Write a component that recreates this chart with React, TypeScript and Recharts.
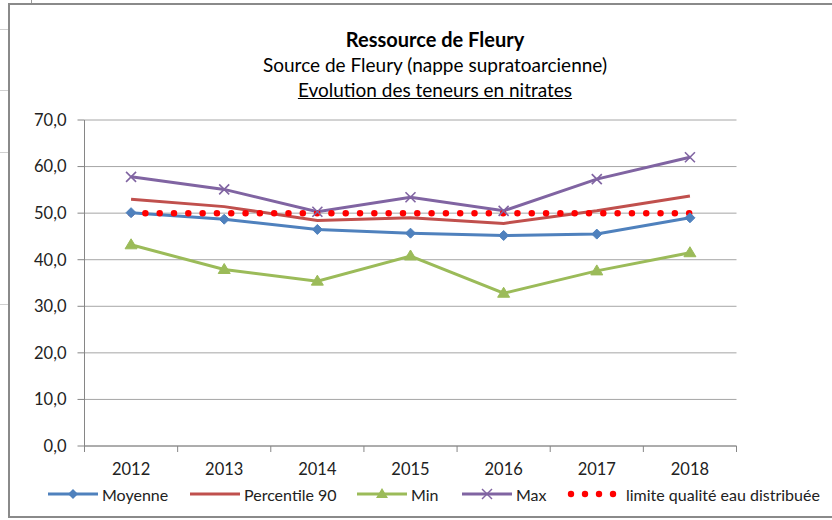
import React from 'react';
import { LineChart, Line, XAxis, YAxis, CartesianGrid } from 'recharts';

const years = ['2012', '2013', '2014', '2015', '2016', '2017', '2018'];
const moyenne = [50.1, 48.7, 46.5, 45.7, 45.2, 45.5, 49.0];
const percentile90 = [53.0, 51.4, 48.4, 49.0, 47.8, 50.5, 53.7];
const minValues = [43.2, 37.9, 35.4, 40.8, 32.8, 37.6, 41.5];
const maxValues = [57.8, 55.1, 50.3, 53.4, 50.5, 57.3, 62.0];
const limite = [50, 50, 50, 50, 50, 50, 50];
const yTicks = [0, 10, 20, 30, 40, 50, 60, 70];

const BLUE = '#4F81BD';
const RED = '#C0504D';
const GREEN = '#9BBB59';
const PURPLE = '#8064A2';
const LIMIT = '#FF0000';
const FONT = 'Lato, "Open Sans", sans-serif';

const data = years.map((year, i) => ({
  year,
  moyenne: moyenne[i],
  p90: percentile90[i],
  min: minValues[i],
  max: maxValues[i],
  limite: limite[i],
}));

const Diamond = (props: any) => {
  const { cx, cy } = props;
  if (cx == null || cy == null) return null;
  return <polygon points={`${cx},${cy - 5} ${cx + 5},${cy} ${cx},${cy + 5} ${cx - 5},${cy}`} fill={BLUE} stroke={BLUE} />;
};

const Triangle = (props: any) => {
  const { cx, cy } = props;
  if (cx == null || cy == null) return null;
  return <polygon points={`${cx},${cy - 6} ${cx + 6},${cy + 4} ${cx - 6},${cy + 4}`} fill={GREEN} stroke={GREEN} />;
};

const Cross = (props: any) => {
  const { cx, cy } = props;
  if (cx == null || cy == null) return null;
  return (
    <g stroke={PURPLE} strokeWidth={1.6}>
      <line x1={cx - 5} y1={cy - 5} x2={cx + 5} y2={cy + 5} />
      <line x1={cx - 5} y1={cy + 5} x2={cx + 5} y2={cy - 5} />
    </g>
  );
};

// category ticks sit between the years, like Excel
const YearTick = (props: any) => {
  const { x, y, payload, index, visibleTicksCount } = props;
  const half = payload.offset || 0;
  const last = index === visibleTicksCount - 1;
  return (
    <g>
      <line x1={x - half} y1={y} x2={x - half} y2={y + 6} stroke="#868686" />
      {last && <line x1={x + half} y1={y} x2={x + half} y2={y + 6} stroke="#868686" />}
      <text x={x} y={y + 29} textAnchor="middle" fontSize={16.5} fill="#222" fontFamily={FONT}>
        {payload.value}
      </text>
    </g>
  );
};

const LegendLine = ({ color, marker }: { color: string; marker?: string }) => (
  <svg width={50} height={14} style={{ display: 'block' }}>
    <line x1={0} y1={7} x2={50} y2={7} stroke={color} strokeWidth={3} />
    {marker === 'diamond' && <polygon points="25,2 30,7 25,12 20,7" fill={color} />}
    {marker === 'triangle' && <polygon points="25,1 31,11 19,11" fill={color} />}
    {marker === 'cross' && (
      <g stroke={color} strokeWidth={1.4}>
        <line x1={20} y1={2} x2={30} y2={12} />
        <line x1={20} y1={12} x2={30} y2={2} />
      </g>
    )}
  </svg>
);

const legendItems = [
  { label: 'Moyenne', color: BLUE, marker: 'diamond', left: 48 },
  { label: 'Percentile 90', color: RED, marker: '', left: 190 },
  { label: 'Min', color: GREEN, marker: 'triangle', left: 357 },
  { label: 'Max', color: PURPLE, marker: 'cross', left: 462 },
];

const App = () => {
  return (
    <div style={{ position: 'absolute', left: 0, top: 0, width: 832, height: 520, overflow: 'hidden', background: '#fff', fontFamily: FONT }}>
      {/* bits of the spreadsheet behind the chart */}
      {[29, 90, 152, 304].map((t) => (
        <div key={t} style={{ position: 'absolute', left: 0, top: t, width: 8, height: 1, background: '#d0d0d0' }} />
      ))}
      <div style={{ position: 'absolute', left: 31, top: 0, width: 1, height: 3, background: '#9a9a9a' }} />
      <div style={{ position: 'absolute', left: 8, top: 3, width: 840, height: 511, border: '2px solid #8a8a8a', boxSizing: 'content-box' }} />

      <div style={{ position: 'absolute', left: 0, top: 27, width: 870, textAlign: 'center', color: '#000' }}>
        <div style={{ fontSize: 20, fontWeight: 700, lineHeight: '25px' }}>Ressource de Fleury</div>
        <div style={{ fontSize: 19, lineHeight: '25px' }}>Source de Fleury (nappe supratoarcienne)</div>
        <div style={{ fontSize: 19, lineHeight: '25px', textDecoration: 'underline' }}>Evolution des teneurs en nitrates</div>
      </div>

      <div style={{ position: 'absolute', left: 0, top: 0 }}>
        <LineChart width={832} height={520} data={data} margin={{ top: 120, right: 95.5, bottom: 44, left: 0 }}>
          <CartesianGrid vertical={false} stroke="#a6a6a6" />
          <XAxis
            dataKey="year"
            scale="band"
            height={30}
            stroke="#868686"
            tickLine={false}
            tickSize={0}
            tickMargin={0}
            tick={<YearTick />}
            interval={0}
          />
          <YAxis
            width={84.5}
            domain={[0, 70]}
            ticks={yTicks}
            stroke="#868686"
            tickSize={7}
            tickMargin={11}
            tick={{ fill: '#222', fontSize: 16.5, fontFamily: FONT }}
            tickFormatter={(v: number) => v.toFixed(1).replace('.', ',')}
          />
          <Line dataKey="moyenne" stroke={BLUE} strokeWidth={3} dot={<Diamond />} activeDot={false} isAnimationActive={false} />
          <Line dataKey="p90" stroke={RED} strokeWidth={3} dot={false} activeDot={false} isAnimationActive={false} />
          <Line dataKey="min" stroke={GREEN} strokeWidth={3} dot={<Triangle />} activeDot={false} isAnimationActive={false} />
          <Line dataKey="max" stroke={PURPLE} strokeWidth={3} dot={<Cross />} activeDot={false} isAnimationActive={false} />
          <Line
            dataKey="limite"
            stroke={LIMIT}
            strokeWidth={6.5}
            strokeLinecap="round"
            strokeDasharray="0 14.31"
            dot={false}
            activeDot={false}
            isAnimationActive={false}
          />
        </LineChart>
      </div>

      {legendItems.map((it) => (
        <div key={it.label} style={{ position: 'absolute', left: it.left, top: 485, height: 18, display: 'flex', alignItems: 'center', fontSize: 16, color: '#222' }}>
          <LegendLine color={it.color} marker={it.marker} />
          <span style={{ marginLeft: 4 }}>{it.label}</span>
        </div>
      ))}
      <div style={{ position: 'absolute', left: 567, top: 485, height: 18, display: 'flex', alignItems: 'center', fontSize: 16, color: '#222' }}>
        <svg width={50} height={14} style={{ display: 'block' }}>
          {[0, 1, 2, 3].map((i) => (
            <circle key={i} cx={4 + i * 14} cy={7} r={3.2} fill={LIMIT} />
          ))}
        </svg>
        <span style={{ marginLeft: 9 }}>limite qualité eau distribuée</span>
      </div>
    </div>
  );
};

export default App;
